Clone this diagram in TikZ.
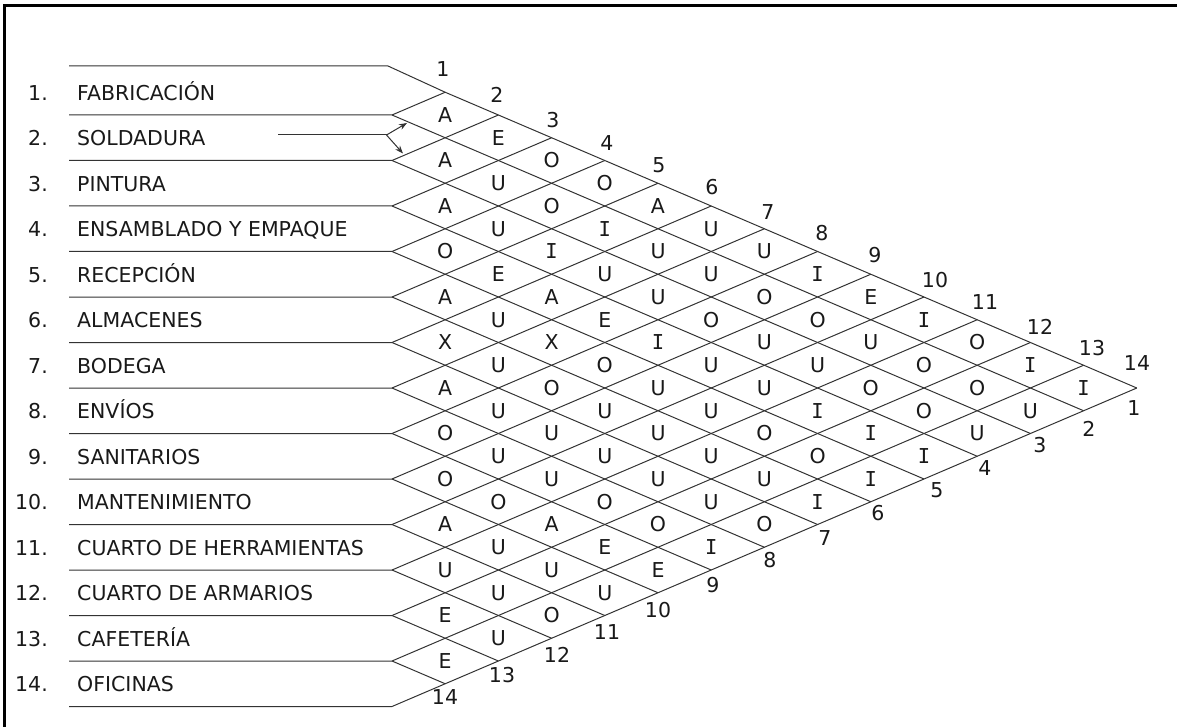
\documentclass[tikz,border=0pt]{standalone}
\usepackage{fontspec}
\setmainfont{DejaVu Sans}
\newfontfamily\monofont{DejaVu Sans Mono}
\usetikzlibrary{arrows.meta}
\newcommand\Iv{{\monofont I}}
\begin{document}
\begin{tikzpicture}[x=1pt,y=-1pt,
  grid/.style={draw=black!80, line width=1pt},
  txt/.style={font=\fontsize{20.5}{24}\selectfont, text=black!90, inner sep=0pt},
  rel/.style={txt, anchor=center},
  lbl/.style={txt, anchor=base west},
  num/.style={txt, anchor=base east},
  arr/.style={grid, -{Stealth[length=8pt,width=6pt]}}]
\useasboundingbox (0,0) rectangle (1177,727);
% frame
\draw[line width=2.5pt, black] (4.5,727) -- (4.5,5.3) -- (1177,5.3);
% grid
\draw[grid] (69,66) -- (388,66) -- (445.2,92.25) -- (1136.8,388);
\foreach \k in {1,...,14} {
  \pgfmathsetmacro\yk{69.5+45.5*\k}
  \draw[grid] (69,\yk) -- (392,\yk) -- ++({53.2*\k},{-22.75*\k});
}
\foreach \k in {1,...,13} {
  \pgfmathsetmacro\yk{69.5+45.5*\k}
  \draw[grid] (392,\yk) -- ++({53.2*(14-\k)},{22.75*(14-\k)});
}
% relationship letters
\foreach \d/\lst in {
  1/{A,A,A,O,A,X,A,O,O,A,U,E,E},
  2/{E,U,U,E,U,U,U,U,O,U,U,U},
  3/{O,O,\Iv,A,X,O,U,U,A,U,O},
  4/{O,\Iv,U,E,O,U,U,O,E,U},
  5/{A,U,U,\Iv,U,U,U,O,E},
  6/{U,U,O,U,U,U,U,\Iv},
  7/{U,O,U,U,O,U,O},
  8/{\Iv,O,U,\Iv,O,\Iv},
  9/{E,U,O,\Iv,\Iv},
  10/{\Iv,O,O,\Iv},
  11/{O,O,U},
  12/{\Iv,U},
  13/{\Iv}} {
  \foreach \L [count=\i] in \lst {
    \node[rel] (c\i-\d) at ({392+53.2*\d},{69.5+22.75*(2*\i+\d-1)}) {\L};
  }
}
% column numbers (top)
\foreach \k/\x/\y in {1/443/69, 2/497/95, 3/553/120, 4/607/143, 5/659/165,
  6/712/187, 7/768/212, 8/822/233, 9/875/255, 10/935/280, 11/985/302,
  12/1040/327, 13/1092/348, 14/1137/363}
  \node[rel] (t\k) at (\x,\y) {\k};
% numbers (bottom)
\foreach \k/\x/\y in {1/1134/408, 2/1089/429, 3/1040/445, 4/985/468, 5/937/490,
  6/878/513, 7/825/538, 8/770/560, 9/713/585, 10/658/610, 11/607/632,
  12/557/655, 13/502/675, 14/445/697}
  \node[rel] (b\k) at (\x,\y) {\k};
% row labels
\foreach \i/\name in {1/FABRICACIÓN, 2/SOLDADURA, 3/PINTURA,
  4/ENSAMBLADO Y EMPAQUE, 5/RECEPCIÓN, 6/ALMACENES, 7/BODEGA, 8/ENVÍOS,
  9/SANITARIOS, 10/MANTENIMIENTO, 11/CUARTO DE HERRAMIENTAS,
  12/CUARTO DE ARMARIOS, 13/CAFETERÍA, 14/OFICINAS} {
  \pgfmathsetmacro\yb{69.5+45.5*(\i-0.5)+7.8}
  \node[num] (n\i) at (48,\yb) {\i.};
  \node[lbl] (l\i) at (77,\yb) {\name};
}
% arrow at SOLDADURA
\coordinate (sa) at (278,135);
\coordinate (sj) at (386.5,135);
\coordinate (su) at (407,123);
\coordinate (sd) at (403,153.5);
\draw[grid] (sa) -- (sj);
\draw[arr] (sj) -- (su);
\draw[arr] (sj) -- (sd);
\end{tikzpicture}
\end{document}
